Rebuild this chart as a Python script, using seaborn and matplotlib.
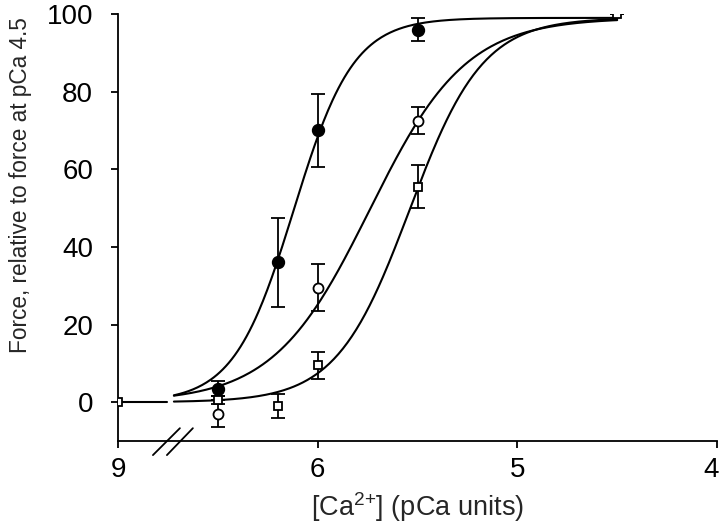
import numpy as np
import pandas as pd
import matplotlib.pyplot as plt
import seaborn as sns
from matplotlib.transforms import blended_transform_factory, ScaledTranslation

sns.set_style('ticks')
plt.rcParams['font.family'] = ['Liberation Sans', 'DejaVu Sans']
plt.rcParams['mathtext.fontset'] = 'custom'
plt.rcParams['mathtext.rm'] = 'Liberation Sans'
plt.rcParams['mathtext.default'] = 'regular'

# pCa values of the measurements (9 is drawn at 7, past the axis break)
pca = [9.0, 6.5, 6.2, 6.0, 5.5, 4.5]

# relative force (% of force at pCa 4.5) and error bars
filled_mean = [np.nan, 3.5, 36.0, 70.0, 96.0, np.nan]
filled_err = [np.nan, 2.0, 11.5, 9.3, 3.0, np.nan]
open_mean = [np.nan, -3.0, np.nan, 29.5, 72.5, np.nan]
open_err = [np.nan, 3.5, np.nan, 6.0, 3.5, np.nan]
square_mean = [0.0, 0.5, -1.0, 9.5, 55.5, 100.0]
square_err = [0.0, 1.0, 3.0, 3.5, 5.5, 0.0]

# Hill fit parameters
fit_names = ['filled', 'open', 'square']
fit_pca50 = [6.12, 5.74, 5.54]
fit_nh = [2.9, 1.8, 2.37]
fit_fmax = [99.0, 99.0, 99.0]

tick_pos = [7, 6, 5, 4]
tick_labels = ['9', '6', '5', '4']


def to_axis(p):
    p = np.asarray(p, dtype=float)
    return np.where(p > 7, 7.0, p)


fig = plt.figure(figsize=(7.2, 5.24), dpi=100)
ax = fig.add_axes([118 / 720, 1 - 441 / 524, 599 / 720, 427 / 524])

# fitted curves
grid = np.linspace(6.72, 4.5, 300)
rows = []
for name, p50, nh, fmax in zip(fit_names, fit_pca50, fit_nh, fit_fmax):
    f = fmax / (1 + 10 ** (nh * (grid - p50)))
    rows.append(pd.DataFrame({'pCa': grid, 'force': f, 'series': name}))
curves = pd.concat(rows)
sns.lineplot(data=curves, x='pCa', y='force', hue='series', sort=False,
             palette=['black'] * 3, legend=False, linewidth=1.5, ax=ax)

# baseline segment at pCa 9
ax.plot([7, 6.755], [0, 0], color='black', lw=1.5)

x = to_axis(pca)
ax.errorbar(x, filled_mean, yerr=filled_err, fmt='o', color='black',
            markersize=8.6, capsize=5, elinewidth=1.3, capthick=1.3, zorder=4)
ax.errorbar(x, open_mean, yerr=open_err, fmt='o', color='black', mfc='white',
            markersize=7.2, mew=1.3, capsize=5, elinewidth=1.3, capthick=1.3, zorder=5)
ax.errorbar(x, square_mean, yerr=square_err, fmt='s', color='black', mfc='white',
            markersize=6.3, mew=1.3, capsize=5, elinewidth=1.3, capthick=1.3, zorder=6)

ax.set_xlim(7, 4)
ax.set_ylim(-10, 100)
ax.set_xticks(tick_pos)
ax.set_xticklabels(tick_labels)
ax.set_yticks(range(0, 101, 20))
ax.tick_params(labelsize=20, length=5, width=1.3, direction='out', colors='black')
ax.tick_params(axis='x', pad=6.5)
ax.tick_params(axis='y', pad=13)
for s in ['left', 'bottom']:
    ax.spines[s].set_linewidth(1.3)
    ax.spines[s].set_color('black')
sns.despine(ax=ax)

# keep the last tick label inside the figure
last = ax.get_xticklabels()[-1]
last.set_transform(last.get_transform() + ScaledTranslation(-4 / 72, 0, fig.dpi_scale_trans))

ax.set_xlabel('[Ca$^{2{+}}$] (pCa units)', fontsize=19.5, labelpad=5)
ax.set_ylabel('Force, relative to force at pCa 4.5', fontsize=16.3)
ax.yaxis.set_label_coords(-0.143, 0.6)

# axis break marks
tr = blended_transform_factory(ax.transData, ax.transAxes)
for x0, x1 in [(6.825, 6.69), (6.755, 6.625)]:
    ax.plot([x0, x1], [-0.033, 0.030], color='black', lw=1.3,
            transform=tr, clip_on=False)

fig.savefig('out.png', dpi=100)
